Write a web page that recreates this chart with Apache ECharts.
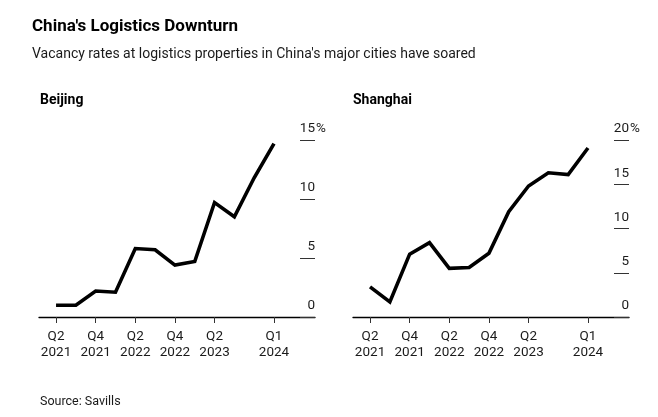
<!DOCTYPE html>
<html>
<head>
<meta charset="utf-8">
<script src="https://cdn.jsdelivr.net/npm/echarts@6/dist/echarts.min.js"></script>
<style>
  html, body { margin: 0; padding: 0; background: #ffffff; }
  #chart { width: 658px; height: 417px; }
</style>
</head>
<body>
<div id="chart"></div>
<script>
// Quarters shown on the x axis (index = position)
const quarters = ['Q2 2021','Q3 2021','Q4 2021','Q1 2022','Q2 2022','Q3 2022','Q4 2022','Q1 2023','Q2 2023','Q3 2023','Q4 2023','Q1 2024'];
// Vacancy rates (%)
const beijing  = [1.0, 1.0, 2.2, 2.1, 5.8, 5.7, 4.4, 4.7, 9.7, 8.5, 11.8, 14.7];
const shanghai = [3.4, 1.7, 7.1, 8.4, 5.5, 5.6, 7.2, 11.9, 14.8, 16.3, 16.1, 19.1];
// Labelled ticks on the x axis
const xTickQuarters = ['Q2 2021','Q4 2021','Q2 2022','Q4 2022','Q2 2023','Q1 2024'];
const beijingYTicks = [0, 5, 10, 15];
const shanghaiYTicks = [0, 5, 10, 15, 20];

const FONT = 'Roboto';
const TXT = '#1a1a1a';
const xTickIdx = xTickQuarters.map(q => quarters.indexOf(q));

function toPairs(arr) { return arr.map((v, i) => [i, v]); }

function xAxisCfg(gridIndex) {
  return {
    type: 'value', gridIndex: gridIndex, min: -0.86, max: 13.07,
    splitLine: { show: false },
    axisLine: { show: true, onZero: false, lineStyle: { color: '#000', width: 1.3 } },
    axisTick: { show: true, length: 6, customValues: xTickIdx, lineStyle: { color: '#333', width: 1 } },
    axisLabel: {
      customValues: xTickIdx, margin: 11, color: TXT, fontFamily: FONT, fontSize: 13.5, lineHeight: 16.5,
      formatter: v => { const q = quarters[Math.round(v)] || ''; return q.replace(' ', '\n'); }
    }
  };
}
function yAxisCfg(gridIndex, ticks) {
  const max = ticks[ticks.length - 1];
  return {
    type: 'value', gridIndex: gridIndex, position: 'right', min: 0, max: max, interval: 5,
    splitLine: { show: false },
    axisLine: { show: false, onZero: false },
    axisTick: { show: true, inside: true, length: 15, lineStyle: { color: '#333', width: 1 } },
    axisLabel: {
      inside: true, margin: -12, align: 'right', verticalAlign: 'bottom',
      color: TXT, fontFamily: FONT, fontSize: 13.5, lineHeight: 16, padding: [0, 0, 3, 0],
      formatter: v => '{n|' + v + '}{p|' + (v === max ? '%' : ' ') + '}',
      rich: {
        n: { color: TXT, fontFamily: FONT, fontSize: 13.5, lineHeight: 16 },
        p: { color: TXT, fontFamily: FONT, fontSize: 13.5, lineHeight: 16, width: 12, align: 'left' }
      }
    }
  };
}

const chart = echarts.init(document.getElementById('chart'), null, { renderer: 'canvas' });
chart.setOption({
  backgroundColor: '#ffffff',
  animation: false,
  title: [
    { text: "China's Logistics Downturn", left: 32, top: 16, padding: 0,
      textStyle: { fontFamily: FONT, fontWeight: 'bold', fontSize: 17, lineHeight: 22, color: '#000' } },
    { text: "Vacancy rates at logistics properties in China's major cities have soared", left: 32, top: 45, padding: 0,
      textStyle: { fontFamily: FONT, fontWeight: 'normal', fontSize: 14, lineHeight: 18, color: '#1a1a1a' } },
    { text: 'Beijing', left: 40, top: 92, padding: 0,
      textStyle: { fontFamily: FONT, fontWeight: 'bold', fontSize: 14, lineHeight: 16, color: '#000' } },
    { text: 'Shanghai', left: 353, top: 92, padding: 0,
      textStyle: { fontFamily: FONT, fontWeight: 'bold', fontSize: 14, lineHeight: 16, color: '#000' } },
    { text: 'Source: Savills', left: 40, top: 394, padding: 0,
      textStyle: { fontFamily: FONT, fontWeight: 'normal', fontSize: 12.5, lineHeight: 16, color: '#1a1a1a' } }
  ],
  grid: [
    { left: 39, right: 343, top: 140, bottom: 100 },
    { left: 353, right: 29, top: 140, bottom: 100 }
  ],
  xAxis: [xAxisCfg(0), xAxisCfg(1)],
  yAxis: [yAxisCfg(0, beijingYTicks), yAxisCfg(1, shanghaiYTicks)],
  series: [
    { name: 'Beijing', type: 'line', xAxisIndex: 0, yAxisIndex: 0, data: toPairs(beijing),
      showSymbol: false, lineStyle: { color: '#000', width: 3.6, join: 'miter' } },
    { name: 'Shanghai', type: 'line', xAxisIndex: 1, yAxisIndex: 1, data: toPairs(shanghai),
      showSymbol: false, lineStyle: { color: '#000', width: 3.6, join: 'miter' } }
  ]
});
</script>
</body>
</html>
